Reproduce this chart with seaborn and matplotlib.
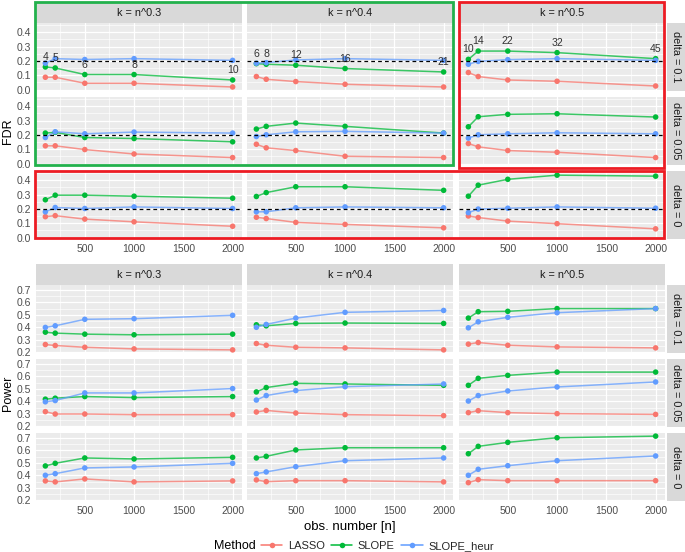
import numpy as np
import pandas as pd
import matplotlib
matplotlib.use("Agg")
import matplotlib.pyplot as plt
import seaborn as sns
from matplotlib.patches import Rectangle
from matplotlib.lines import Line2D
from matplotlib.ticker import MultipleLocator

sns.set_style("white")
plt.rcParams['font.family'] = ['Liberation Sans', 'DejaVu Sans']

# ---------------- data ----------------
n_obs = [100, 200, 500, 1000, 2000]
k_names = ['k = n^0.3', 'k = n^0.4', 'k = n^0.5']
delta_names = ['delta = 0.1', 'delta = 0.05', 'delta = 0']
methods = ['LASSO', 'SLOPE', 'SLOPE_heur']
k_labels = [[4, 5, 6, 8, 10], [6, 8, 12, 16, 21], [10, 14, 22, 32, 45]]

# indexing: [k column][delta row][n]
fdr_lasso = [
    [[0.086, 0.086, 0.044, 0.044, 0.018], [0.124, 0.124, 0.098, 0.067, 0.042], [0.146, 0.153, 0.129, 0.110, 0.079]],
    [[0.091, 0.072, 0.056, 0.037, 0.018], [0.135, 0.110, 0.091, 0.051, 0.042], [0.142, 0.133, 0.106, 0.092, 0.068]],
    [[0.119, 0.091, 0.067, 0.058, 0.025], [0.140, 0.117, 0.091, 0.079, 0.042], [0.151, 0.140, 0.115, 0.097, 0.061]],
]
fdr_slope = [
    [[0.158, 0.151, 0.105, 0.105, 0.067], [0.213, 0.218, 0.182, 0.175, 0.152], [0.264, 0.296, 0.296, 0.289, 0.275]],
    [[0.181, 0.177, 0.170, 0.147, 0.123], [0.241, 0.260, 0.283, 0.260, 0.213], [0.287, 0.314, 0.355, 0.355, 0.330]],
    [[0.211, 0.269, 0.269, 0.258, 0.216], [0.257, 0.327, 0.344, 0.348, 0.325], [0.289, 0.366, 0.407, 0.436, 0.429]],
]
fdr_heur = [
    [[0.184, 0.216, 0.210, 0.216, 0.204], [0.182, 0.222, 0.208, 0.220, 0.213], [0.180, 0.210, 0.203, 0.214, 0.203]],
    [[0.184, 0.188, 0.207, 0.216, 0.204], [0.189, 0.201, 0.222, 0.225, 0.213], [0.180, 0.180, 0.208, 0.214, 0.208]],
    [[0.177, 0.197, 0.209, 0.216, 0.204], [0.178, 0.201, 0.208, 0.215, 0.208], [0.174, 0.199, 0.205, 0.214, 0.205]],
]
pow_lasso = [
    [[0.262, 0.254, 0.240, 0.227, 0.219], [0.317, 0.298, 0.298, 0.293, 0.293], [0.355, 0.347, 0.371, 0.347, 0.355]],
    [[0.270, 0.256, 0.240, 0.235, 0.219], [0.314, 0.327, 0.306, 0.293, 0.285], [0.363, 0.349, 0.357, 0.357, 0.347]],
    [[0.265, 0.278, 0.256, 0.243, 0.235], [0.309, 0.325, 0.309, 0.301, 0.295], [0.341, 0.365, 0.357, 0.357, 0.357]],
]
pow_slope = [
    [[0.361, 0.353, 0.345, 0.340, 0.345], [0.417, 0.425, 0.438, 0.430, 0.438], [0.475, 0.496, 0.539, 0.531, 0.544]],
    [[0.420, 0.412, 0.431, 0.434, 0.431], [0.475, 0.510, 0.544, 0.539, 0.528], [0.539, 0.552, 0.603, 0.621, 0.621]],
    [[0.474, 0.525, 0.528, 0.550, 0.550], [0.528, 0.584, 0.608, 0.634, 0.634], [0.573, 0.632, 0.664, 0.701, 0.714]],
]
pow_heur = [
    [[0.399, 0.412, 0.464, 0.469, 0.496], [0.396, 0.406, 0.467, 0.467, 0.502], [0.400, 0.413, 0.459, 0.467, 0.496]],
    [[0.400, 0.423, 0.474, 0.520, 0.535], [0.410, 0.446, 0.486, 0.517, 0.539], [0.413, 0.427, 0.469, 0.517, 0.539]],
    [[0.396, 0.444, 0.480, 0.517, 0.550], [0.402, 0.446, 0.483, 0.515, 0.555], [0.400, 0.448, 0.477, 0.517, 0.555]],
]
fdr_target = 0.2
label_offset = 0.07

palette = {'LASSO': '#F8766D', 'SLOPE': '#00BA38', 'SLOPE_heur': '#619CFF'}


def long_df(l, s, h):
    rows = []
    for c, kn in enumerate(k_names):
        for r, dn in enumerate(delta_names):
            for m, arr in zip(methods, (l, s, h)):
                for i, n in enumerate(n_obs):
                    rows.append((kn, dn, m, n, arr[c][r][i]))
    return pd.DataFrame(rows, columns=['k', 'delta', 'Method', 'n', 'value'])


fdr_df = long_df(fdr_lasso, fdr_slope, fdr_heur)
pow_df = long_df(pow_lasso, pow_slope, pow_heur)

# ---------------- layout (pixels) ----------------
W, H = 685, 552
fig = plt.figure(figsize=(W / 100, H / 100), dpi=100)


def px_axes(x0, y0, x1, y1, **kw):
    return fig.add_axes([x0 / W, 1 - y1 / H, (x1 - x0) / W, (y1 - y0) / H], **kw)


col_x = [(36, 242), (247, 453), (459, 665)]
top_rows = [(23, 91), (97, 165), (171, 239)]
bot_rows = [(285, 353), (359, 427), (433, 501)]
strip_col = '#D9D9D9'
tick_col = '#4D4D4D'
fs_tick = 7.5
fs_strip = 7.8


def style_panel(ax, ylim, yminor, show_x, show_y, yticks):
    ax.set_facecolor('#EBEBEB')
    ax.set_xlim(5, 2095)
    ax.set_ylim(*ylim)
    ax.set_xticks([500, 1000, 1500, 2000])
    ax.set_xticks([250, 750, 1250, 1750], minor=True)
    ax.set_yticks(yticks)
    ax.yaxis.set_minor_locator(MultipleLocator(yminor))
    ax.grid(which='major', color='white', linewidth=0.9)
    ax.grid(which='minor', color='white', linewidth=0.45)
    ax.set_axisbelow(True)
    for sp in ax.spines.values():
        sp.set_visible(False)
    ax.tick_params(which='minor', length=0)
    ax.tick_params(which='major', length=2.5, width=0.7, color='#333333',
                   labelsize=fs_tick, labelcolor=tick_col, pad=1.3)
    if not show_x:
        ax.tick_params(axis='x', which='major', length=0, labelbottom=False)
    if not show_y:
        ax.tick_params(axis='y', which='major', length=0, labelleft=False)
    else:
        ax.set_yticklabels([f'{t:.1f}' for t in yticks])
    ax.set_xlabel('')
    ax.set_ylabel('')


def draw_grid(df, rows, ylim, yticks, is_fdr):
    for c, kn in enumerate(k_names):
        for r, dn in enumerate(delta_names):
            x0, x1 = col_x[c]
            y0, y1 = rows[r]
            ax = px_axes(x0, y0, x1, y1)
            sub = df[(df['k'] == kn) & (df['delta'] == dn)]
            sns.lineplot(data=sub, x='n', y='value', hue='Method', hue_order=methods,
                         palette=palette, ax=ax, legend=False, linewidth=1.1, alpha=0.75)
            sns.scatterplot(data=sub, x='n', y='value', hue='Method', hue_order=methods,
                            palette=palette, ax=ax, legend=False, s=16, linewidth=0, zorder=3)
            if is_fdr:
                ax.axhline(fdr_target, color='black', linestyle=(0, (3, 2.5)), linewidth=0.9, zorder=4)
                if r == 0:
                    sl = sub[sub['Method'] == 'SLOPE'].sort_values('n')
                    for (nn, vv), lab in zip(sl[['n', 'value']].values, k_labels[c]):
                        ax.text(nn, vv + label_offset, str(lab), ha='center', va='center',
                                fontsize=7.6, color='#333333', zorder=5)
            style_panel(ax, ylim, 0.05, r == 2, c == 0, yticks)
    # strips
    for c, kn in enumerate(k_names):
        x0, x1 = col_x[c]
        sax = px_axes(x0, rows[0][0] - 21, x1, rows[0][0])
        sax.set_facecolor(strip_col)
        sax.set_xticks([]); sax.set_yticks([])
        for sp in sax.spines.values():
            sp.set_visible(False)
        sax.text(0.5, 0.5, kn, ha='center', va='center', fontsize=fs_strip, color='#1A1A1A',
                 transform=sax.transAxes)
    for r, dn in enumerate(delta_names):
        y0, y1 = rows[r]
        sax = px_axes(667, y0, 685, y1)
        sax.set_facecolor(strip_col)
        sax.set_xticks([]); sax.set_yticks([])
        for sp in sax.spines.values():
            sp.set_visible(False)
        sax.text(0.5, 0.5, dn, ha='center', va='center', rotation=-90, fontsize=fs_strip,
                 color='#1A1A1A', transform=sax.transAxes)


draw_grid(fdr_df, top_rows, (-0.01, 0.465), [0.0, 0.1, 0.2, 0.3, 0.4], True)
draw_grid(pow_df, bot_rows, (0.194, 0.739), [0.2, 0.3, 0.4, 0.5, 0.6, 0.7], False)

# axis titles
fig.text(8 / W, 1 - 131 / H, 'FDR', rotation=90, ha='center', va='center', fontsize=9, color='black')
fig.text(8 / W, 1 - 393 / H, 'Power', rotation=90, ha='center', va='center', fontsize=9, color='black')
fig.text(350 / W, 1 - 527 / H, 'obs. number [n]', ha='center', va='center', fontsize=9.5, color='black')

# highlight rectangles
overlay = fig.add_axes([0, 0, 1, 1], facecolor='none')
overlay.set_xlim(0, W)
overlay.set_ylim(H, 0)
overlay.axis('off')
overlay.add_patch(Rectangle((35.5, 1.5), 453 - 35.5, 164.5 - 1.5, fill=False, edgecolor='#22B14C', linewidth=2.0))
overlay.add_patch(Rectangle((459, 1.5), 664.5 - 459, 168 - 1.5, fill=False, edgecolor='#ED1C24', linewidth=2.0))
overlay.add_patch(Rectangle((35.5, 170.5), 664.5 - 35.5, 237.5 - 170.5, fill=False, edgecolor='#ED1C24', linewidth=2.0))

# legend
fig.text(214 / W, 1 - 546 / H, 'Method', ha='left', va='center', fontsize=9, color='black')
handles = [Line2D([0], [0], color=palette[m], linewidth=1.1, marker='o', markersize=4,
                  markeredgewidth=0) for m in methods]
fig.legend(handles, methods, loc='center left', bbox_to_anchor=(261 / W, 1 - 546 / H), ncol=3,
           frameon=False, fontsize=8, handlelength=1.9, handletextpad=0.5, columnspacing=0.6,
           borderpad=0, borderaxespad=0)

fig.savefig('out.png', dpi=100)
